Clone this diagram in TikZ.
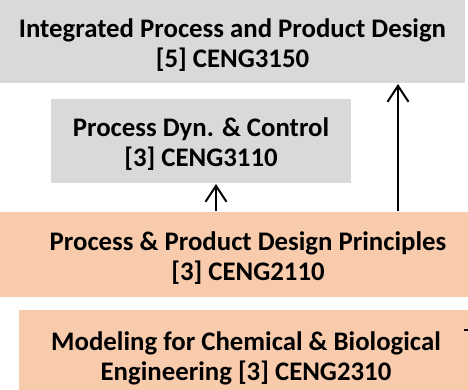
\documentclass[tikz,border=0pt]{standalone}
\usepackage{fontspec}
\setmainfont{Carlito}
\usetikzlibrary{positioning}
\usetikzlibrary{arrows.meta}
\definecolor{upgray}{HTML}{D9D9D9}
\definecolor{lowpeach}{HTML}{F8CBAD}
\tikzset{
  box/.style    = { rectangle, inner sep=0pt, align=center, text=black,
                    font=\bfseries\fontsize{26.8}{30}\selectfont,
                    text height=55pt },
  upper/.style  = { box, fill=upgray },
  lower/.style  = { box, fill=lowpeach },
}

\begin{document}
\begin{tikzpicture}[
  x=1pt,y=-1pt,
  >={Straight Barb[length=16pt,width=21pt]},line width=2pt,
]
  \clip (0,0) rectangle (468,390);

  \node (ipd)  [upper,minimum width=465pt,minimum height=83pt] at (232.5,41.5)
               {Integrated Process and Product Design\\{}[5] CENG3150};
  \node (dyn)  [upper,minimum width=300pt,minimum height=84pt] at (201,141)
               {Process Dyn. \& Control\\{}[3] CENG3110};
  \node (pdp)  [lower,minimum width=496pt,minimum height=85pt] at (248,254.5)
               {Process \& Product Design Principles\\{}[3] CENG2110};
  \node (mod)  [lower,minimum width=454pt,minimum height=90pt] at (246,355)
               {Modeling for Chemical \& Biological\\Engineering [3] CENG2310};

  \draw [->] ([xshift=15pt]dyn.south |- pdp.north) -- ([xshift=15pt]dyn.south);
  \draw [->] ([xshift=150pt]pdp.north) -- ([xshift=150pt]pdp.north |- ipd.south);

  \coordinate (cut) at ([xshift=-10pt]mod.east |- 0,329.5);
  \draw (cut) -- ++(5,0);
\end{tikzpicture}
\end{document}
